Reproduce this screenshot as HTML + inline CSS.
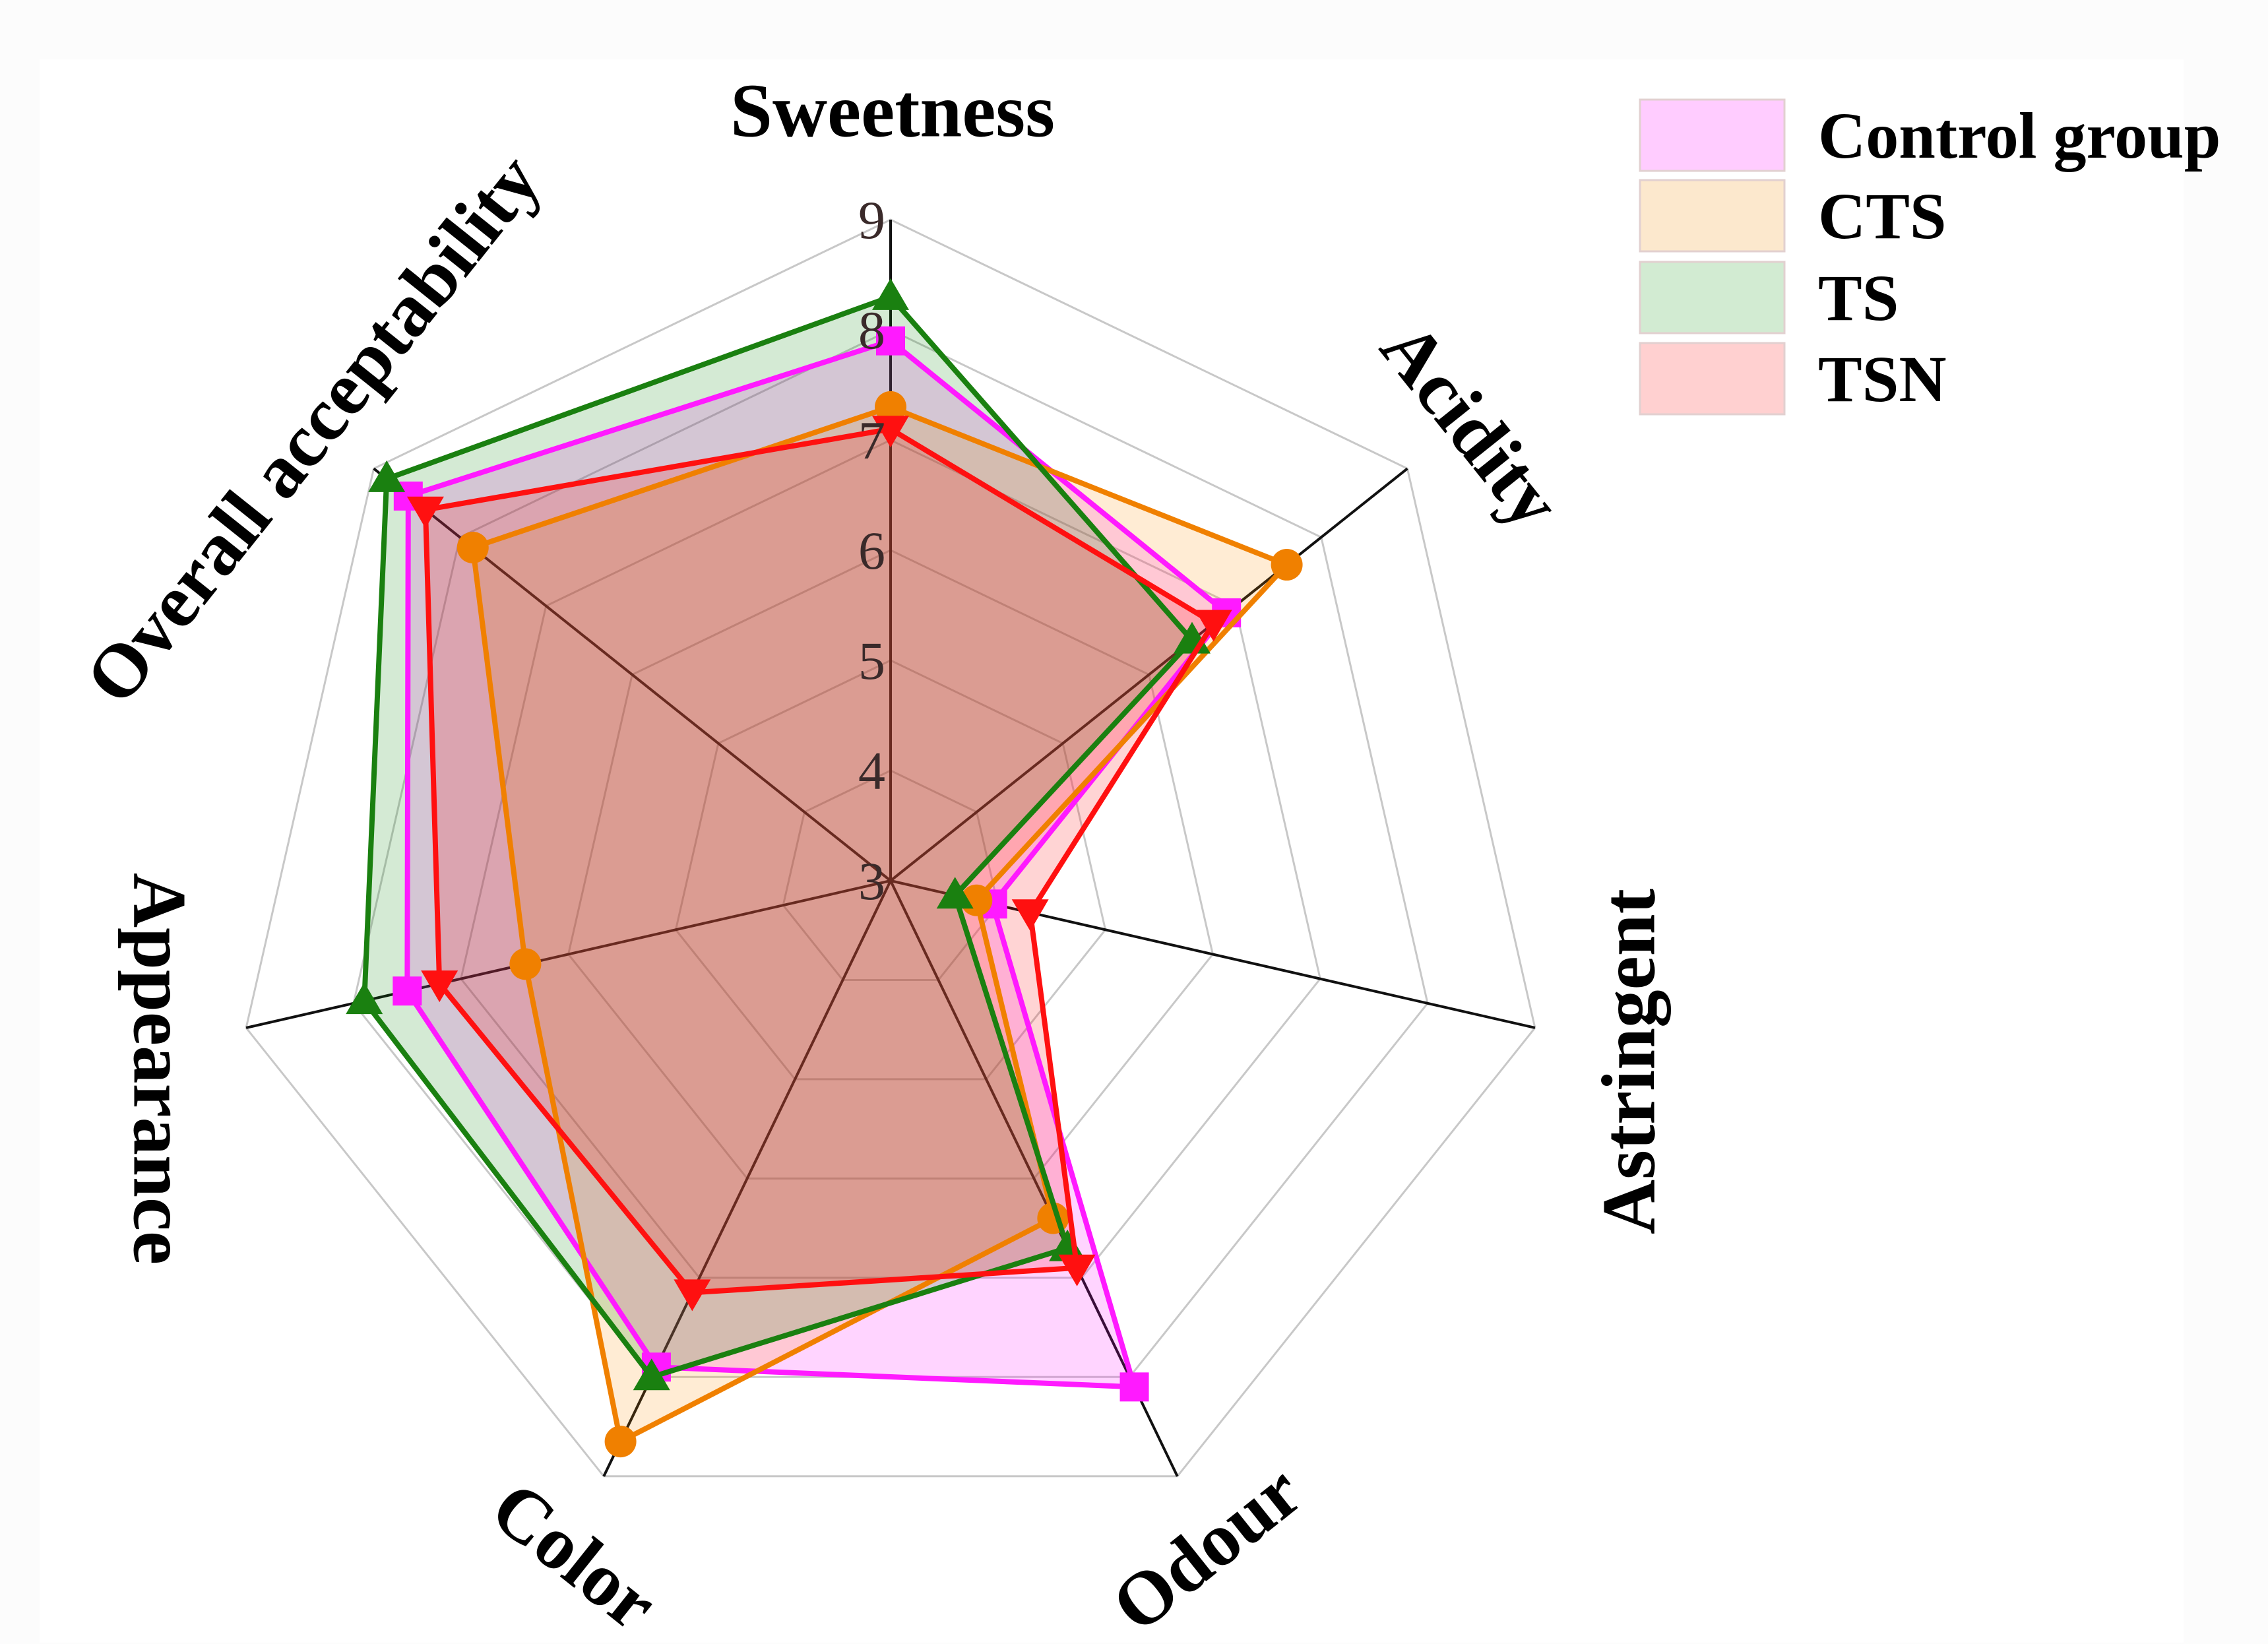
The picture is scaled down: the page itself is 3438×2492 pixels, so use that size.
<!DOCTYPE html>
<html><head><meta charset="utf-8"><style>
html,body{margin:0;padding:0;background:#fcfcfc;}
svg{display:block;}
text{font-family:"Liberation Serif",serif;}
</style></head>
<body>
<svg id="chart" width="3438" height="2492" viewBox="0 0 3438 2492" xmlns="http://www.w3.org/2000/svg">
<rect x="60" y="90" width="3250" height="2400" fill="#ffffff"/>
<g id="grid"></g>
<g id="series"></g>
<g id="ticks"></g>
<g id="labels"></g>
<g id="legend"></g>
</svg>
<script>
const categories = ["Sweetness","Acidity","Astringent","Odour","Color","Appearance","Overall acceptability"];
const seriesNames = ["Control group","CTS","TS","TSN"];
const controlValues = [7.9, 6.9, 3.95, 8.1, 7.9, 7.5, 8.6];
const ctsValues     = [7.3, 7.6, 3.8, 6.4, 8.65, 6.4, 7.85];
const tsValues      = [8.3, 6.5, 3.6, 6.7, 8.0, 7.9, 8.85];
const tsnValues     = [7.1, 6.75, 4.3, 6.9, 7.15, 7.2, 8.4];
const tickLabels = [3,4,5,6,7,8,9];

const NS="http://www.w3.org/2000/svg";
const cx=1350, cy=1335, R=1002, vmin=3, vmax=9;
const n=categories.length;
function ang(i){return i*2*Math.PI/n;}
function pt(i,v){const r=(v-vmin)/(vmax-vmin)*R;return [cx+r*Math.sin(ang(i)), cy-r*Math.cos(ang(i))];}
function mk(tag,attrs,parent){const e=document.createElementNS(NS,tag);for(const k in attrs)e.setAttribute(k,attrs[k]);parent.appendChild(e);return e;}

const grid=document.getElementById('grid');
tickLabels.forEach(t=>{
  const pts=categories.map((c,i)=>pt(i,t).join(',')).join(' ');
  const g=mk('polygon',{points:pts,fill:'none',stroke:'#c8c8c8','stroke-width':3},grid);
  
  
});
categories.forEach((c,i)=>{
  const p=pt(i,vmax);
  const l=mk('line',{x1:cx,y1:cy,x2:p[0],y2:p[1],stroke:'#111','stroke-width':4},grid);
  
  
});

const colors=["#ff00ff","#ff8c00","#008000","#ff0000"];
const lineColors=["#ff1aff","#f08000","#1a8010","#ff1010"];
const allValues=[controlValues,ctsValues,tsValues,tsnValues];
const markers=["square","circle","triangle","tridown"];
const sg=document.getElementById('series');
allValues.forEach((vals,s)=>{
  const pts=vals.map((v,i)=>pt(i,v).join(',')).join(' ');
  const a=mk('polygon',{points:pts,fill:colors[s],'fill-opacity':0.17,stroke:'none'},sg);
  
  
});
allValues.forEach((vals,s)=>{
  const pts=vals.map((v,i)=>pt(i,v).join(',')).join(' ');
  const l=mk('polygon',{points:pts,fill:'none',stroke:lineColors[s],'stroke-width':8,'stroke-linejoin':'miter'},sg);
  
  
  vals.forEach((v,i)=>{
    const [x,y]=pt(i,v);let m;const sz=22;
    if(markers[s]==='square') m=mk('rect',{x:x-sz,y:y-sz,width:2*sz,height:2*sz,fill:lineColors[s]},sg);
    else if(markers[s]==='circle') m=mk('circle',{cx:x,cy:y,r:sz+2,fill:lineColors[s]},sg);
    else if(markers[s]==='triangle') m=mk('polygon',{points:`${x},${y-28} ${x+28},${y+20} ${x-28},${y+20}`,fill:lineColors[s]},sg);
    else m=mk('polygon',{points:`${x},${y+28} ${x+28},${y-20} ${x-28},${y-20}`,fill:lineColors[s]},sg);
    
    
  });
});

const tg=document.getElementById('ticks');
tickLabels.forEach(t=>{
  const p=pt(0,t);
  const tx=mk('text',{x:p[0]-8,y:p[1]+28,'text-anchor':'end','font-size':82,fill:'#3a2a2a'},tg);
  tx.textContent=t;
  
  
});

const labelPos=[[1353,168,0],[2230,644,51.4],[2469,1609,-90],[1829,2347,-38.6],[871,2358,38.6],[242,1620,90],[474,650,-51.4]];
const lg=document.getElementById('labels');
categories.forEach((c,i)=>{
  const [x,y,r]=labelPos[i];
  const t=mk('text',{x:x,y:y,'text-anchor':'middle','dominant-baseline':'central','font-size':115,'font-weight':'bold',fill:'#000',transform:`rotate(${r} ${x} ${y})`},lg);
  t.textContent=c;
  
  
});

const leg=document.getElementById('legend');
const legFill=["#ffccff","#fce8cd","#d2ebd2","#ffd0d0"];
const boxY=[151,273,397,520];
seriesNames.forEach((nm,s)=>{
  const g=mk('g',{},leg);
  
  
  const r=mk('rect',{x:2486,y:boxY[s],width:219,height:108,fill:legFill[s],stroke:'#e2d0d0','stroke-width':3},g);
  
  
  const t=mk('text',{x:2756,y:boxY[s]+88,'font-size':100,'font-weight':'bold',fill:'#000'},g);
  t.textContent=nm;
  
  
});
</script>
</body></html>
